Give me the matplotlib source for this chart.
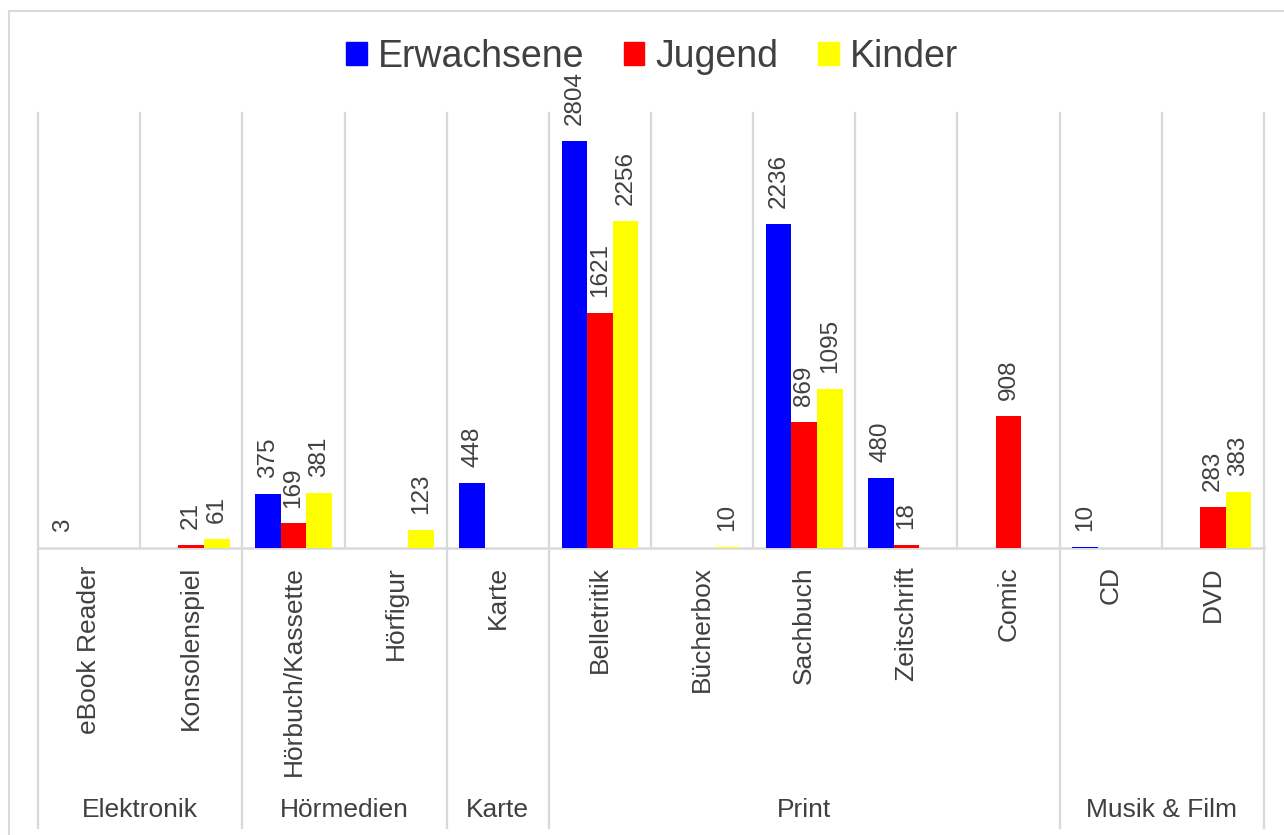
import matplotlib
matplotlib.use("Agg")
import matplotlib.pyplot as plt
from matplotlib.patches import Patch, Rectangle
from matplotlib.transforms import blended_transform_factory

plt.rcParams['font.family'] = ['Liberation Sans', 'DejaVu Sans']

categories = ["eBook Reader", "Konsolenspiel", "Hörbuch/Kassette", "Hörfigur", "Karte",
              "Belletritik", "Bücherbox", "Sachbuch", "Zeitschrift", "Comic", "CD", "DVD"]
groups = ["Elektronik", "Hörmedien", "Karte", "Print", "Musik & Film"]
group_sizes = [2, 2, 1, 5, 2]
series = ["Erwachsene", "Jugend", "Kinder"]
erwachsene = [3, 0, 375, 0, 448, 2804, 0, 2236, 480, 0, 10, 0]
jugend = [0, 21, 169, 0, 0, 1621, 0, 869, 18, 908, 0, 283]
kinder = [0, 61, 381, 123, 0, 2256, 10, 1095, 0, 0, 0, 383]
colors = ["#0000FF", "#FF0000", "#FFFF00"]

W, H = 1284, 835
fig = plt.figure(figsize=(W / 100, H / 100), dpi=100)
TXT = "#404040"
GRID = "#d9d9d9"

# outer chart border
fig.add_artist(Rectangle((9 / W, -0.2), 1.2, 1.2 - 11 / H, transform=fig.transFigure,
                         fill=False, edgecolor=GRID, linewidth=1.5))

x0, x1 = 38, 1264
ytop, ybase = 113, 548
ax = fig.add_axes([x0 / W, 1 - ybase / H, (x1 - x0) / W, (ybase - ytop) / H])
ax.set_xlim(0, len(categories))
ax.set_ylim(0, 3000)
ax.axis('off')

axh = ybase - ytop
def ypix(p):  # pixel y (from top) to axes coords
    return (ybase - p) / axh

bt = blended_transform_factory(ax.transData, ax.transAxes)

# vertical gridlines within plot area
for i in range(len(categories) + 1):
    ax.plot([i, i], [0, 1], transform=bt, color=GRID, lw=1.6, clip_on=False, zorder=0)

# baseline
ax.plot([0, len(categories)], [0, 0], color=GRID, lw=1.8, clip_on=False, zorder=1)

# group boundaries extending down
bounds = [0]
for s in group_sizes:
    bounds.append(bounds[-1] + s)
for b in bounds:
    ax.plot([b, b], [0, ypix(828)], transform=bt, color=GRID, lw=1.6, clip_on=False, zorder=0)

offsets = [-0.25, 0.0, 0.25]
width = 0.25
for vals, col, off in zip([erwachsene, jugend, kinder], colors, offsets):
    for i, v in enumerate(vals):
        if v == 0:
            continue
        xc = i + 0.5 + off
        ax.bar(xc, v, width=width, color=col, linewidth=0, zorder=2)
        ax.annotate(str(v), (xc, v), xytext=(0, 11.5), textcoords='offset points',
                    rotation=90, ha='center', va='bottom', fontsize=17.5, color=TXT,
                    annotation_clip=False)

# category labels
for i, c in enumerate(categories):
    ax.text(i + 0.5, ypix(566), c, transform=bt, rotation=90, ha='center', va='top',
            fontsize=19, color=TXT)

# group labels
for g, a, b in zip(groups, bounds[:-1], bounds[1:]):
    ax.text((a + b) / 2, ypix(810), g, transform=bt, ha='center', va='center',
            fontsize=19, color=TXT)

handles = [Patch(facecolor=c, edgecolor=c) for c in colors]
fig.legend(handles, series, loc='center', bbox_to_anchor=(652 / W, 1 - 57 / H), ncol=3,
           frameon=False, fontsize=27, labelcolor=TXT, handlelength=0.55, handleheight=0.55,
           handletextpad=0.3, columnspacing=1.05)

fig.savefig("out.png", dpi=100)
